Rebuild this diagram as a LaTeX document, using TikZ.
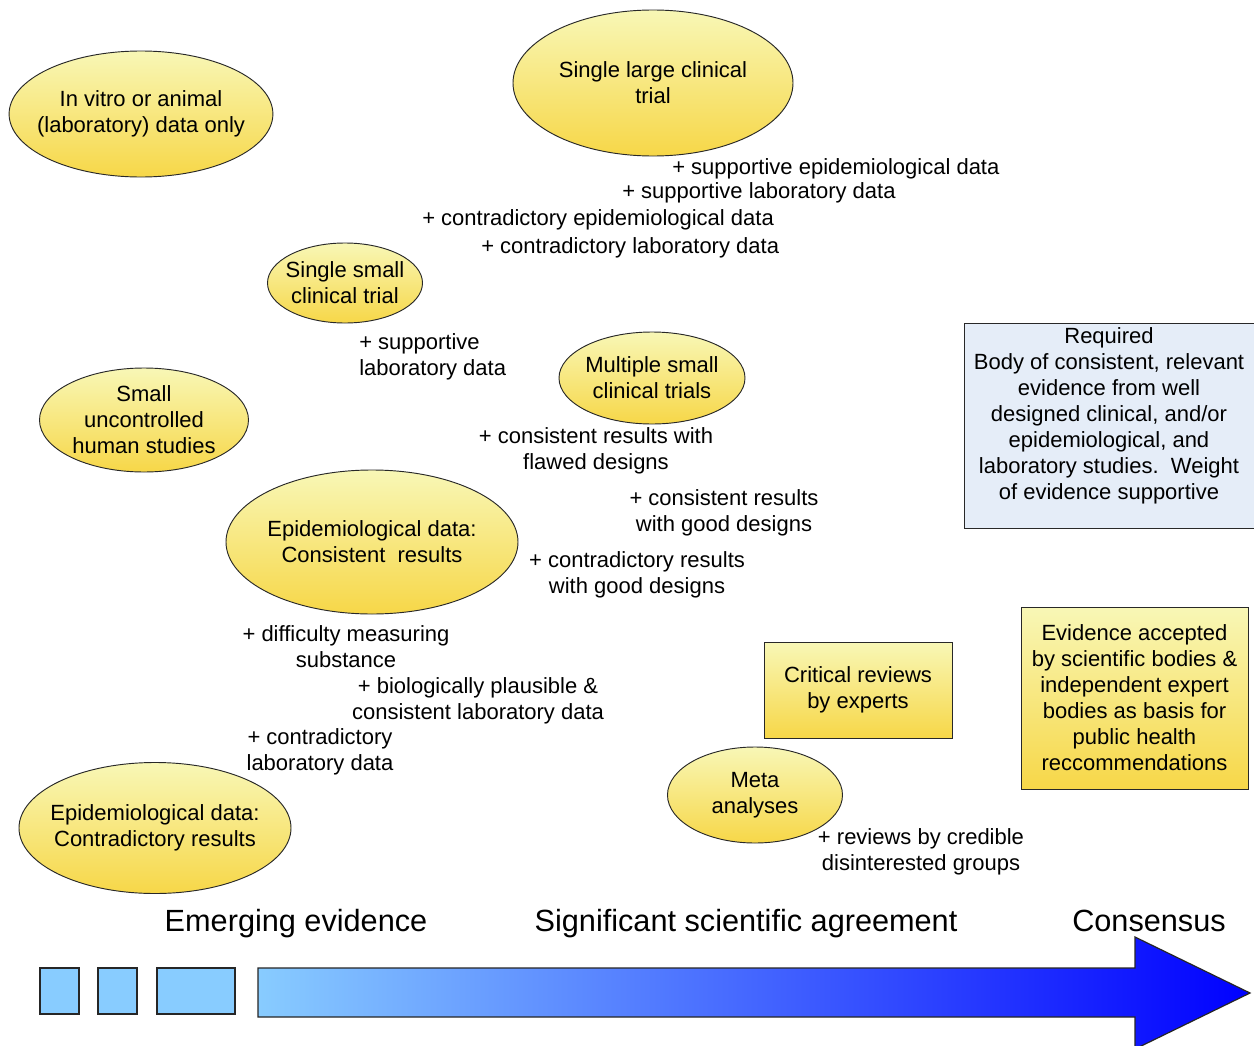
\documentclass[tikz,border=0pt]{standalone}
\usepackage{fontspec}
\setmainfont{Liberation Sans}
\usetikzlibrary{shapes.geometric}
\definecolor{ytop}{RGB}{248,247,182}
\definecolor{ybot}{RGB}{247,215,72}
\definecolor{bbox}{RGB}{229,237,248}
\definecolor{sq}{RGB}{136,204,255}
\definecolor{edge}{RGB}{40,40,40}
\tikzset{
  every node/.style={font=\fontsize{16.5}{19.5}\selectfont},
  ell/.style={ellipse, draw=edge, line width=0.7pt, top color=ytop, bottom color=ybot, inner sep=-8pt, align=center},
  ybox/.style={rectangle, draw=edge, line width=0.7pt, top color=ytop, bottom color=ybot, inner sep=0pt, align=center},
  lbl/.style={inner sep=0pt, align=center},
  mlbl/.style={inner sep=0pt, align=center, yshift=-1.3pt},
  head/.style={inner sep=0pt, font=\fontsize{23}{27}\selectfont},
  sqbox/.style={rectangle, draw=black!85, line width=0.9pt, fill=sq, inner sep=0pt},
}
\begin{document}
\begin{tikzpicture}[x=0.75pt,y=-0.75pt]
\useasboundingbox (0,0) rectangle (1254,1046);
\clip (0,0) rectangle (1254,1046);
\fill[white] (0,0) rectangle (1254,1046);

% ellipses
\node[ell, minimum width=195.75pt, minimum height=94.5pt] (vitro) at (141,114) {In vitro or animal\\(laboratory) data only};
\node[ell, minimum width=210pt, minimum height=109.5pt] (large) at (653,83) {Single large clinical\\trial};
\node[ell, minimum width=116.25pt, minimum height=60pt] (small) at (345,283) {Single small\\clinical trial};
\node[ell, minimum width=156.75pt, minimum height=78pt] (uncon) at (144,420) {Small\\uncontrolled\\human studies};
\node[ell, minimum width=139.5pt, minimum height=69pt] (multi) at (652,378) {Multiple small\\clinical trials};
\node[ell, minimum width=219pt, minimum height=108pt] (epicons) at (372,542) {Epidemiological data:\\Consistent\ \ results};
\node[ell, minimum width=204pt, minimum height=98.25pt] (epicontra) at (155,828) {Epidemiological data:\\Contradictory results};
\node[ell, minimum width=131.25pt, minimum height=72pt] (meta) at (755,795) {Meta\\analyses};

% boxes
\node[ybox, minimum width=141pt, minimum height=72pt] (critical) at (858,690) {Critical reviews\\by experts};
\node[ybox, minimum width=170.25pt, minimum height=136.5pt] (accepted) at (1134.5,698) {Evidence accepted\\by scientific bodies \&\\independent expert\\bodies as basis for\\public health\\reccommendations};
\node[rectangle, draw=edge, line width=0.7pt, fill=bbox, minimum width=219pt, minimum height=153.75pt, inner sep=0pt] (reqbox) at (1110.5,425.5) {};
\node[mlbl] (reqtext) at (1109,414) {Required\\Body of consistent, relevant\\evidence from well\\designed clinical, and/or\\epidemiological, and\\laboratory studies.\ \ Weight\\of evidence supportive};

% labels
\node[lbl, anchor=base west] (l1) at (672,174) {+ supportive epidemiological data};
\node[lbl, anchor=base west] (l2) at (622,198) {+ supportive laboratory data};
\node[lbl, anchor=base west] (l3) at (422,225) {+ contradictory epidemiological data};
\node[lbl, anchor=base west] (l4) at (481,253) {+ contradictory laboratory data};
\node[mlbl, align=left, anchor=west] (l5) at (359,355) {+ supportive\\laboratory data};
\node[mlbl] (l6) at (596,449) {+ consistent results with\\flawed designs};
\node[mlbl] (l7) at (724,511) {+ consistent results\\with good designs};
\node[mlbl] (l8) at (637,573) {+ contradictory results\\with good designs};
\node[mlbl] (l9) at (346,645) {+ difficulty measuring\\substance};
\node[mlbl] (l10) at (478,699) {+ biologically plausible \&\\consistent laboratory data};
\node[mlbl] (l11) at (320,750) {+ contradictory\\laboratory data};
\node[mlbl] (l12) at (921,850) {+ reviews by credible\\disinterested groups};

% headings
\node[head, anchor=base] (h1) at (296,931) {Emerging evidence};
\node[head, anchor=base] (h2) at (746,931) {Significant scientific agreement};
\node[head, anchor=base] (h3) at (1149,931) {Consensus};

% progress blocks
\node[sqbox, minimum width=29.25pt, minimum height=34.5pt] (s1) at (59.5,991) {};
\node[sqbox, minimum width=29.25pt, minimum height=34.5pt] (s2) at (117.5,991) {};
\node[sqbox, minimum width=58.5pt, minimum height=34.5pt] (s3) at (196,991) {};
\path[draw=black!85, line width=0.9pt, left color=sq, right color={rgb,255:red,0;green,0;blue,255}]
  (258,968) -- (1135,968) -- (1135,937) -- (1250,993) -- (1135,1049) -- (1135,1017) -- (258,1017) -- cycle;
\end{tikzpicture}
\end{document}
